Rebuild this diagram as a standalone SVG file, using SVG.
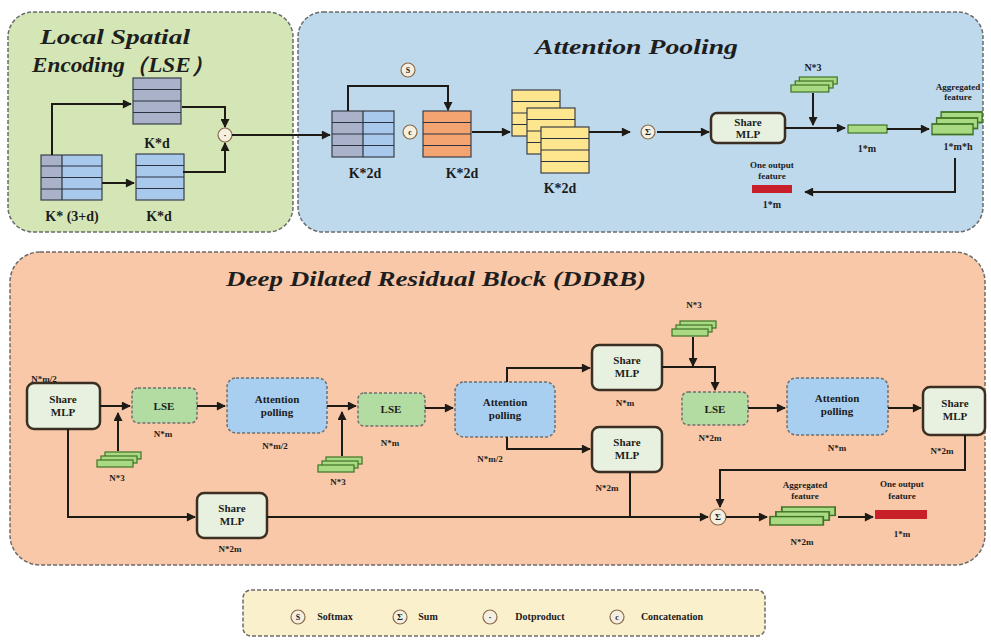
<svg xmlns="http://www.w3.org/2000/svg" width="991" height="641" viewBox="0 0 991 641">
<defs>
<style>
.panel{stroke:#6b6b6b;stroke-width:1.5;stroke-dasharray:4 2}
.ln{fill:none;stroke:#1e1a16;stroke-width:2}
.arr{marker-end:url(#ah)}
.mlp{fill:#e8f1df;stroke:#3a2f22;stroke-width:2.5}
.lse{fill:#b3dca2;stroke:#6f6f6f;stroke-width:1.5;stroke-dasharray:3 2}
.ap{fill:#a8cff0;stroke:#6f6f6f;stroke-width:1.5;stroke-dasharray:3 2}
.op{fill:#f4efe0;stroke:#8a6a4a;stroke-width:1.2}
.t{font-family:"Liberation Serif",serif;font-weight:bold;fill:#1c1c1c;text-anchor:middle}
.title{font-family:"Liberation Serif",serif;font-weight:bold;font-style:italic;fill:#1e1e1e;font-size:22px}
.row{stroke:#2b3340;stroke-width:1.2}
</style>
<marker id="ah" viewBox="0 0 10 10" refX="9" refY="5" markerWidth="10" markerHeight="9" markerUnits="userSpaceOnUse" orient="auto"><path d="M0,0 L10,5 L0,10 z" fill="#1e1a16"/></marker>
<g id="stk">
<rect x="8" y="0" width="36" height="7" fill="#a9d982" stroke="#3f7426" stroke-width="1.2"/>
<rect x="4" y="4" width="36" height="7" fill="#a9d982" stroke="#3f7426" stroke-width="1.2"/>
<rect x="0" y="8" width="36" height="7" fill="#a9d982" stroke="#3f7426" stroke-width="1.2"/>
</g>
<g id="tbl">
<rect x="0" y="0" width="48" height="46" stroke="#3b3f4a" stroke-width="1.2"/>
<line class="row" x1="0" y1="11.5" x2="48" y2="11.5"/>
<line class="row" x1="0" y1="23" x2="48" y2="23"/>
<line class="row" x1="0" y1="34.5" x2="48" y2="34.5"/>
</g>
</defs>

<!-- panels -->
<g id="lse-panel">
<rect class="panel" x="8" y="12" width="285" height="220" rx="25" fill="#d4e6b6"/>
<text class="title" x="40" y="44" textLength="150" lengthAdjust="spacingAndGlyphs">Local Spatial</text>
<text class="title" x="32" y="72" textLength="182" lengthAdjust="spacingAndGlyphs">Encoding（LSE）</text>
</g>
<g id="ap-panel">
<rect class="panel" x="298" y="12" width="685" height="220" rx="25" fill="#bed9ec"/>
<text class="title" x="535" y="54" textLength="203" lengthAdjust="spacingAndGlyphs">Attention Pooling</text>
</g>
<g id="ddrb-panel">
<rect class="panel" x="10" y="252" width="975" height="313" rx="30" fill="#f8c8a8"/>
<text class="title" x="226" y="286" textLength="420" lengthAdjust="spacingAndGlyphs">Deep Dilated Residual Block (DDRB)</text>
</g>
<g id="legend">
<rect class="panel" x="243" y="590" width="522" height="46" rx="8" fill="#fbf0cc"/>
<circle class="op" cx="298" cy="617" r="7"/><text class="t" x="298" y="620" font-size="8">S</text>
<text class="t" x="335" y="620" font-size="10">Softmax</text>
<circle class="op" cx="400" cy="617" r="7"/><text class="t" x="400" y="620" font-size="9">Σ</text>
<text class="t" x="428" y="620" font-size="10">Sum</text>
<circle class="op" cx="490" cy="617" r="7"/><text class="t" x="490" y="620" font-size="9">·</text>
<text class="t" x="540" y="620" font-size="10">Dotproduct</text>
<circle class="op" cx="617" cy="617" r="7"/><text class="t" x="617" y="620" font-size="8">c</text>
<text class="t" x="672" y="620" font-size="10">Concatenation</text>
</g>

<!-- LSE nodes -->
<g id="lse-kd-top">
<use href="#tbl" x="133" y="78" fill="#a9b2c9"/>
<text class="t" x="157" y="148" font-size="14">K*d</text>
</g>
<g id="lse-k3d">
<rect x="41" y="155" width="21" height="45" fill="#a9b2c9"/>
<rect x="62" y="155" width="40" height="45" fill="#a8c8ec"/>
<rect x="41" y="155" width="61" height="45" fill="none" stroke="#3b3f4a" stroke-width="1.2"/>
<line class="row" x1="41" y1="166" x2="102" y2="166"/>
<line class="row" x1="41" y1="177.5" x2="102" y2="177.5"/>
<line class="row" x1="41" y1="189" x2="102" y2="189"/>
<line class="row" x1="62" y1="155" x2="62" y2="200"/>
<text class="t" x="72" y="221" font-size="14">K* (3+d)</text>
</g>
<g id="lse-kd-bot">
<use href="#tbl" x="136" y="154" fill="#a8c8ec"/>
<text class="t" x="159" y="221" font-size="14">K*d</text>
</g>
<g id="lse-dot">
<circle class="op" cx="225" cy="135" r="7"/><text class="t" x="225" y="138" font-size="9">·</text>
</g>

<!-- Attention pooling nodes -->
<g id="ap-k2d-a">
<rect x="332" y="111" width="31" height="46" fill="#a9b2c9"/>
<rect x="363" y="111" width="31" height="46" fill="#a8c8ec"/>
<rect x="332" y="111" width="62" height="46" fill="none" stroke="#3b3f4a" stroke-width="1.2"/>
<line class="row" x1="332" y1="122.5" x2="394" y2="122.5"/>
<line class="row" x1="332" y1="134" x2="394" y2="134"/>
<line class="row" x1="332" y1="145.5" x2="394" y2="145.5"/>
<line class="row" x1="363" y1="111" x2="363" y2="157"/>
<text class="t" x="365" y="178" font-size="14">K*2d</text>
</g>
<g id="ap-softmax">
<circle class="op" cx="408" cy="70" r="7"/><text class="t" x="408" y="73" font-size="8">S</text>
</g>
<g id="ap-concat">
<circle class="op" cx="410" cy="132" r="7"/><text class="t" x="410" y="135" font-size="8">c</text>
</g>
<g id="ap-k2d-b">
<use href="#tbl" x="423" y="111" fill="#f4a470" style="stroke:#7a4a2a"/>
<text class="t" x="462" y="178" font-size="14">K*2d</text>
</g>
<g id="ap-k2d-c">
<use href="#tbl" x="512" y="90" fill="#fde68e"/>
<use href="#tbl" x="527" y="108" fill="#fde68e"/>
<use href="#tbl" x="541" y="127" fill="#fde68e"/>
<text class="t" x="560" y="193" font-size="14">K*2d</text>
</g>
<g id="ap-sum">
<circle class="op" cx="648" cy="132" r="7"/><text class="t" x="648" y="135" font-size="9">Σ</text>
</g>
<g id="ap-mlp">
<rect class="mlp" x="711" y="113" width="74" height="30" rx="6"/>
<text class="t" x="748" y="126" font-size="11">Share</text>
<text class="t" x="748" y="138" font-size="11">MLP</text>
</g>
<g id="ap-n3">
<use href="#stk" transform="translate(791,77) scale(1.05,1)"/>
<text class="t" x="813" y="71" font-size="10">N*3</text>
</g>
<g id="ap-1m">
<rect x="848" y="125" width="39" height="8" fill="#a9d982" stroke="#3f7426" stroke-width="1.2"/>
<text class="t" x="867" y="152" font-size="10">1*m</text>
</g>
<g id="ap-agg">
<use href="#stk" transform="translate(932,112) scale(1.14,1.5)"/>
<text class="t" x="958" y="90" font-size="9">Aggregated</text>
<text class="t" x="958" y="100" font-size="9">feature</text>
<text class="t" x="958" y="150" font-size="10">1*m*h</text>
</g>
<g id="ap-out">
<rect x="752" y="185" width="40" height="8" fill="#c8202a"/>
<text class="t" x="772" y="168" font-size="9">One output</text>
<text class="t" x="772" y="179" font-size="9">feature</text>
<text class="t" x="772" y="208" font-size="10">1*m</text>
</g>

<!-- DDRB nodes -->
<g id="d-mlp1">
<rect class="mlp" x="27" y="383" width="73" height="46" rx="7"/>
<text class="t" x="63" y="403" font-size="11">Share</text>
<text class="t" x="63" y="416" font-size="11">MLP</text>
<text class="t" x="44" y="382" font-size="9">N*m/2</text>
</g>
<g id="d-lse1">
<rect class="lse" x="132" y="388" width="65" height="35" rx="6"/>
<text class="t" x="164" y="410" font-size="11">LSE</text>
<text class="t" x="163" y="437" font-size="9">N*m</text>
</g>
<g id="d-n3a">
<use href="#stk" transform="translate(97,452)"/>
<text class="t" x="117" y="481" font-size="9">N*3</text>
</g>
<g id="d-ap1">
<rect class="ap" x="227" y="378" width="100" height="55" rx="9"/>
<text class="t" x="277" y="403" font-size="11">Attention</text>
<text class="t" x="277" y="416" font-size="11">polling</text>
<text class="t" x="275" y="449" font-size="9">N*m/2</text>
</g>
<g id="d-lse2">
<rect class="lse" x="358" y="393" width="67" height="33" rx="6"/>
<text class="t" x="391" y="413" font-size="11">LSE</text>
<text class="t" x="390" y="446" font-size="9">N*m</text>
</g>
<g id="d-n3b">
<use href="#stk" transform="translate(318,457)"/>
<text class="t" x="338" y="485" font-size="9">N*3</text>
</g>
<g id="d-ap2">
<rect class="ap" x="455" y="382" width="100" height="55" rx="9"/>
<text class="t" x="505" y="406" font-size="11">Attention</text>
<text class="t" x="505" y="419" font-size="11">polling</text>
<text class="t" x="490" y="462" font-size="9">N*m/2</text>
</g>
<g id="d-mlp2">
<rect class="mlp" x="592" y="345" width="70" height="45" rx="7"/>
<text class="t" x="627" y="364" font-size="11">Share</text>
<text class="t" x="627" y="377" font-size="11">MLP</text>
<text class="t" x="625" y="406" font-size="9">N*m</text>
</g>
<g id="d-mlp3">
<rect class="mlp" x="592" y="427" width="70" height="45" rx="7"/>
<text class="t" x="627" y="446" font-size="11">Share</text>
<text class="t" x="627" y="459" font-size="11">MLP</text>
<text class="t" x="607" y="491" font-size="9">N*2m</text>
</g>
<g id="d-n3c">
<use href="#stk" transform="translate(672,321)"/>
<text class="t" x="694" y="308" font-size="9">N*3</text>
</g>
<g id="d-lse3">
<rect class="lse" x="682" y="392" width="66" height="33" rx="6"/>
<text class="t" x="715" y="413" font-size="11">LSE</text>
<text class="t" x="710" y="441" font-size="9">N*2m</text>
</g>
<g id="d-ap3">
<rect class="ap" x="787" y="378" width="101" height="57" rx="9"/>
<text class="t" x="837" y="402" font-size="11">Attention</text>
<text class="t" x="837" y="415" font-size="11">polling</text>
<text class="t" x="837" y="451" font-size="9">N*m</text>
</g>
<g id="d-mlp4">
<rect class="mlp" x="923" y="387" width="62" height="48" rx="7"/>
<text class="t" x="955" y="407" font-size="11">Share</text>
<text class="t" x="955" y="420" font-size="11">MLP</text>
<text class="t" x="942" y="454" font-size="9">N*2m</text>
</g>
<g id="d-mlp5">
<rect class="mlp" x="197" y="493" width="70" height="45" rx="7"/>
<text class="t" x="232" y="512" font-size="11">Share</text>
<text class="t" x="232" y="525" font-size="11">MLP</text>
<text class="t" x="230" y="552" font-size="9">N*2m</text>
</g>
<g id="d-sum">
<circle class="op" cx="718" cy="517" r="8"/><text class="t" x="718" y="520" font-size="9">Σ</text>
</g>
<g id="d-agg">
<use href="#stk" transform="translate(770,507) scale(1.48,1.2)"/>
<text class="t" x="805" y="488" font-size="9">Aggregated</text>
<text class="t" x="805" y="499" font-size="9">feature</text>
<text class="t" x="802" y="545" font-size="9">N*2m</text>
</g>
<g id="d-out">
<rect x="875" y="510" width="52" height="9" fill="#c8202a"/>
<text class="t" x="902" y="487" font-size="9">One output</text>
<text class="t" x="902" y="499" font-size="9">feature</text>
<text class="t" x="902" y="537" font-size="9">1*m</text>
</g>

<!-- connectors -->
<g id="connectors">
<path class="ln arr" d="M52,155 V104 H131"/>
<path class="ln arr" d="M102,183 H134"/>
<path class="ln arr" d="M182,107 H225 V127"/>
<path class="ln arr" d="M183,172 H225 V143"/>
<path class="ln arr" d="M232,135 H330"/>
<path class="ln arr" d="M348,111 V86 H448 V110"/>
<path class="ln arr" d="M472,132 H510"/>
<path class="ln arr" d="M589,132 H630"/>
<path class="ln arr" d="M657,132 H709"/>
<path class="ln arr" d="M785,128 H845"/>
<path class="ln arr" d="M813,93 V125"/>
<path class="ln arr" d="M887,129 H929"/>
<path class="ln arr" d="M955,158 V192 H805"/>

<path class="ln arr" d="M100,406 H130"/>
<path class="ln arr" d="M118,451 V413"/>
<path class="ln arr" d="M197,406 H225"/>
<path class="ln arr" d="M327,406 H356"/>
<path class="ln arr" d="M342,456 V412"/>
<path class="ln arr" d="M425,408 H453"/>
<path class="ln arr" d="M507,382 V368 H590"/>
<path class="ln arr" d="M507,437 V449 H590"/>
<path class="ln arr" d="M662,367 H715 V390"/>
<path class="ln arr" d="M693,337 V366"/>
<path class="ln arr" d="M748,408 H785"/>
<path class="ln arr" d="M888,408 H921"/>
<path class="ln arr" d="M965,435 V470 H720 V507"/>
<path class="ln arr" d="M68,429 V517 H195"/>
<path class="ln arr" d="M267,517 H708"/>
<path class="ln" d="M630,472 V517"/>
<path class="ln arr" d="M726,517 H767"/>
<path class="ln arr" d="M838,517 H873"/>
</g>
</svg>
